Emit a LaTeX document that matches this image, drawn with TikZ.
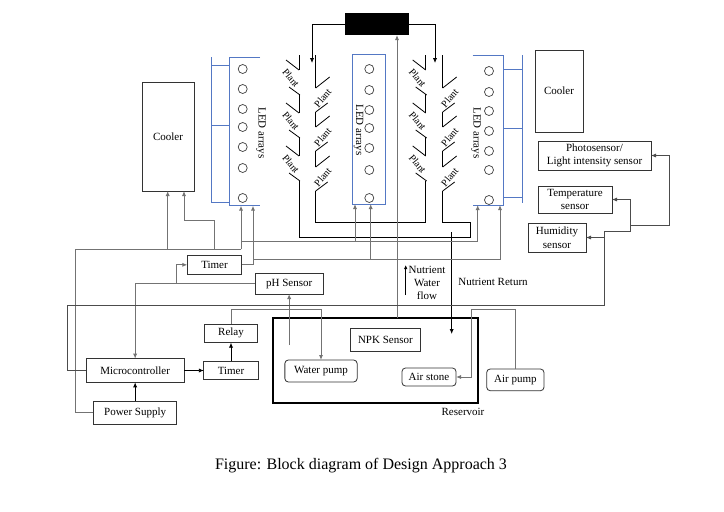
\documentclass[tikz,border=0pt]{standalone}
\usepackage{fontspec}
\setmainfont{Liberation Serif}
\usetikzlibrary{arrows.meta,calc}
\definecolor{ledblue}{RGB}{84,120,196}
\definecolor{wiregray}{RGB}{115,115,115}
\begin{document}
\begin{tikzpicture}[x=1pt,y=-1pt,
  lbl/.style={font=\fontsize{11}{13.5}\selectfont, align=center, inner sep=0pt},
  box/.style={draw=black!80, line width=0.8pt, lbl, outer sep=0pt, anchor=center},
  rbox/.style={box, rounded corners=3.5pt},
  tip/.style={-{Latex[length=5pt,width=4.2pt]}},
  wire/.style={draw=wiregray, line width=1pt},
  swire/.style={draw=black!70, line width=0.9pt},
  bwire/.style={draw=black, line width=0.8pt},
  wall/.style={draw=black, line width=0.8pt},
  ledline/.style={draw=ledblue, line width=0.8pt},
  lamp/.style={draw=black!75, line width=0.7pt},
  plant/.style={font=\fontsize{10}{12}\selectfont, inner sep=0pt},
  ledtext/.style={font=\fontsize{11}{12}\selectfont, inner sep=0pt, rotate=-90},
]
\useasboundingbox (0,0) rectangle (724,512);
\fill[white] (0,0) rectangle (724,512);

% ---------- boxes ----------
\node[box, minimum width=52pt, minimum height=109pt] (coolerL) at (168,136.5) {Cooler};
\node[box, minimum width=48pt, minimum height=82pt] (coolerR) at (559,91) {Cooler};
\node[box, minimum width=113pt, minimum height=29pt] (photo) at (594.5,155.5) {Photosensor/\\Light intensity sensor};
\node[box, minimum width=74pt, minimum height=27pt] (temp) at (575,199.5) {Temperature\\sensor};
\node[box, minimum width=58pt, minimum height=29pt] (humid) at (557,237.5) {Humidity\\sensor};
\node[box, minimum width=54.4pt, minimum height=18.3pt] (timer1) at (214.5,264.85) {Timer};
\node[box, minimum width=68.3pt, minimum height=20.7pt] (ph) at (289.15,283.65) {pH Sensor};
\node[box, minimum width=53.3pt, minimum height=18.7pt] (relay) at (231,333.35) {Relay};
\node[box, minimum width=54.3pt, minimum height=18.6pt] (timer2) at (231,370.5) {Timer};
\node[box, minimum width=98.3pt, minimum height=23.7pt] (micro) at (135.15,370.5) {Microcontroller};
\node[box, minimum width=83.4pt, minimum height=23.3pt] (power) at (135.15,412.65) {Power Supply};
\node[draw=black, line width=1.8pt, minimum width=204.4pt, minimum height=84.4pt, inner sep=0pt, outer sep=0pt] (res) at (375.5,360.5) {};
\node[box, minimum width=70.7pt, minimum height=23pt] (npk) at (385.35,339.5) {NPK Sensor};
\node[rbox, minimum width=72.3pt, minimum height=22pt] (wpump) at (321,371) {Water pump};
\node[rbox, minimum width=54pt, minimum height=18pt] (airstone) at (429,377) {Air stone};
\node[rbox, minimum width=57.3pt, minimum height=21.7pt] (airpump) at (515.35,379.85) {Air pump};
\node[fill=black, minimum width=64pt, minimum height=22pt, inner sep=0pt, outer sep=0pt] (bb) at (377,24) {};

% ---------- texts ----------
\node[lbl] (nrt) at (493,282) {Nutrient Return};
\node[lbl, font=\fontsize{11}{13}\selectfont] (nwf) at (427,283) {Nutrient\\Water\\flow};
\node[lbl] (resl) at (463,412) {Reservoir};
\node[font=\fontsize{16}{18}\selectfont, inner sep=0pt] (cap) at (361,466) {Figure: Block diagram of Design Approach 3};

% ---------- LED arrays ----------
\draw[ledline] (211,57) -- (211,202);
\foreach \y in {65,125,202} \draw[ledline] (211,\y) -- (229,\y);
\draw[ledline] (260,57) -- (229,57) -- (229,205.7) -- (260,205.7);
\foreach \y in {69,89,109,127,147,168,198} \draw[lamp] (242.7,\y) circle[radius=4.5];
\node[ledtext] (ledtL) at (261,133) {LED arrays};

\draw[ledline] (352.7,54) rectangle (385,204);
\foreach \y in {69,90,110,128,148,170,198} \draw[lamp] (369.3,\y) circle[radius=4.5];
\node[ledtext] (ledtM) at (358.5,130) {LED arrays};

\draw[ledline] (472.7,55) -- (503,55) -- (503,205) -- (472.7,205);
\foreach \y in {69,128,197} \draw[ledline] (503,\y) -- (522,\y);
\draw[ledline] (522,55) -- (522,203);
\foreach \y in {71,92,111,131,151,170,200} \draw[lamp] (489,\y) circle[radius=4.5];
\node[ledtext] (ledtR) at (476,133) {LED arrays};

\coordinate (ledLbot) at (245,205.7);
\coordinate (ledMbot) at (369,204);
\coordinate (ledRbot) at (488,205);

% ---------- plant channels ----------
\foreach \xl/\xr in {299/315.7, 425.7/442.7}{
  \draw[wall] (\xl,55) -- (\xl,70);
  \draw[wall] (\xl,94) -- (\xl,113);
  \draw[wall] (\xl,137) -- (\xl,156);
  \foreach \c in {77,120,163}{
    \draw[wall] (\xl,\c-7) -- (\xl-13,\c-17);
    \draw[wall] (\xl+1,\c+18) -- (\xl-10,\c+10);
    \node[plant, rotate=-50] at (\xl-8,\c+1) {Plant};
  }
  \draw[wall] (\xr,55) -- (\xr,88);
  \draw[wall] (\xr,112) -- (\xr,127);
  \draw[wall] (\xr,151) -- (\xr,167);
  \foreach \d in {98,137,177}{
    \draw[wall] (\xr,\d-10) -- (\xr+14,\d-21);
    \draw[wall] (\xr,\d+14) -- (\xr+12,\d+5);
    \node[plant, rotate=50] at (\xr+7,\d) {Plant};
  }
}
\draw[wall] (299,181) -- (299,237) -- (470,237) -- (470,222) -- (442.7,222) -- (442.7,191);
\draw[wall] (315.7,191) -- (315.7,222) -- (425.7,222) -- (425.7,181);

% ---------- top pump connections ----------
\coordinate (tl) at (312,63);
\coordinate (tr) at (435,63);
\draw[bwire,tip] (bb.west) -| (tl);
\draw[bwire,tip] (bb.east) -| (tr);
\coordinate (nfA) at (397,318.3);
\draw[wire,tip] (nfA) -- (nfA |- bb.south);
\coordinate (saA) at (405.7,295);
\coordinate (saB) at (405.7,265);
\draw[bwire,-{Latex[length=4pt,width=3.5pt]}] (saA) -- (saB);
\coordinate (nrA) at (451.7,232);
\coordinate (nrB) at (451.7,334);
\draw[bwire,tip] (nrA) -- (nrB);

% ---------- power / cooler / LED wiring ----------
\coordinate (pA) at (75,249);
\coordinate (pB) at (241,249);
\draw[wire] (power.west) -| (pA) -- (pB);
\draw[wire,tip] (pB) -- (pB |- ledLbot);
\coordinate (cA) at (167.7,249);
\draw[wire,tip] (cA) -- (cA |- coolerL.south);
\coordinate (cB) at (214,249);
\coordinate (cC) at (184,220.7);
\draw[wire,tip] (cB) |- (cC) -- (cC |- coolerL.south);
\coordinate (lA) at (241,241.7);
\coordinate (lB) at (477.7,241.7);
\coordinate (lM) at (355,241.7);
\draw[wire,tip] (lA) -- (lB) -- (lB |- ledRbot);
\draw[wire,tip] (lM) -- (lM |- ledMbot);
\coordinate (tB) at (253,259);
\coordinate (tC) at (500,259);
\coordinate (tM) at (370.7,259);
\draw[wire,tip] (timer1.east) -| (tB |- ledLbot);
\draw[wire,tip] (tB) -- (tC) -- (tC |- ledRbot);
\draw[wire,tip] (tM) -- (tM |- ledMbot);

% ---------- controller wiring ----------
\draw[wire,tip] (ph.west) -| (micro.north);
\coordinate (mB) at (176.7,283.65);
\draw[wire,tip] (mB) |- (timer1.west);
\draw[bwire,tip] (micro.east) -- (timer2.west);
\draw[bwire,tip] (power.north) -- (micro.south);
\draw[bwire,tip] (timer2.north) -- (relay.south);
\coordinate (wpA) at (321,309.3);
\draw[wire,tip] (relay.north) |- (wpA) -- (wpump.north);
\coordinate (phA) at (289.15,345);
\draw[wire,tip] (phA) -- (ph.south);

% ---------- sensors ----------
\coordinate (sA) at (67,305);
\coordinate (sB) at (604,305);
\coordinate (sC) at (630.7,231.7);
\coordinate (sD) at (669,225);
\draw[swire,tip] (micro.west) -| (sA) -- (sB) |- (sC) |- (temp.east);
\draw[swire,tip] (sB |- humid.east) -- (humid.east);
\draw[swire,tip] (sC |- sD) -- (sD) |- (photo.east);

% ---------- air ----------
\coordinate (aA) at (471.7,309.3);
\draw[wire,tip] (airpump.north) |- (aA) |- (airstone.east);
\end{tikzpicture}
\end{document}
